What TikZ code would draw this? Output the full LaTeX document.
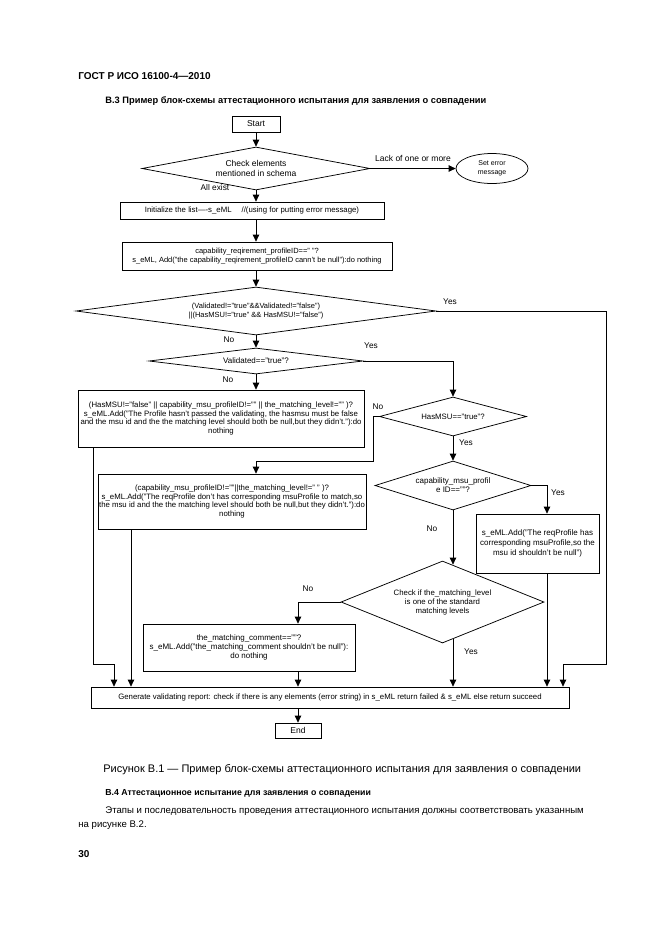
\documentclass[tikz,border=0pt]{standalone}
\usepackage{fontspec}
\setmainfont{Liberation Sans}
\usetikzlibrary{shapes.geometric}
\usetikzlibrary{arrows.meta}
\usetikzlibrary{positioning}

\begin{document}
\begin{tikzpicture}[
            x = 1pt, y = -1pt, % page grid, y runs down
            > = {Triangle[length=7pt, width=6.5pt]}, % arrow head style
            line width = 0.75pt, % line style
            font = \fontsize{7.8}{8.8}\selectfont
        ]

        \tikzstyle{block}=[draw, rectangle, align=center, inner sep=0.5pt]
        \tikzstyle{decision}=[draw, diamond, align=center, inner sep=0pt]
        \tikzstyle{term}=[draw, ellipse, align=center, inner sep=0pt]
        \tikzstyle{tag}=[inner sep=0pt, font=\fontsize{8.3}{9}\selectfont]
        \tikzstyle{page}=[inner sep=0pt, anchor=base west]

        \useasboundingbox (0,0) rectangle (662,935);

        % page text
        \node[page, font=\fontsize{10}{12}\selectfont\bfseries] (gost) at (78,79) {ГОСТ Р ИСО 16100-4—2010};
        \node[page, font=\fontsize{9.3}{11}\selectfont\bfseries] (title) at (105,103) {В.3 Пример блок-схемы аттестационного испытания для заявления о совпадении};

        % start and schema check
        \node[block, minimum width=48, minimum height=16, font=\fontsize{8.5}{9}\selectfont] (start) at (256,124) {Start};
        \node[decision, minimum width=228, minimum height=43, aspect=5.3, font=\fontsize{8.5}{9.5}\selectfont] (check) at (256,168.5) {Check elements\\mentioned in schema};
        \node[term, minimum width=72, minimum height=30, font=\fontsize{7}{9}\selectfont] (err) at (492,168.5) {Set error\\message};
        \node[tag] (allex) at (215,188) {All exist};

        \path[->] (start) edge (check);
        \draw[->] (check) -- node[tag, above=7pt, font=\fontsize{8.5}{9}\selectfont] (lack) {Lack of one or more} (err);

        % error list
        \node[block, minimum width=264, minimum height=17] (init) at (252,210.5) {Initialize the list----s\_eML\hspace{10pt}//(using for putting error message)};
        \node[block, minimum width=270, minimum height=28, font=\fontsize{7.5}{9}\selectfont] (cap) at (257,256) {capability\_reqirement\_profileID==" "?\\s\_eML, Add("the capability\_reqirement\_profileID cann't be null"):do nothing};

        \draw[->] (check) -- (check |- init.north);
        \draw[->] (check |- init.south) -- (check |- cap.north);

        % validated / hasmsu flags
        \node[decision, minimum width=360, minimum height=48, aspect=7.5, font=\fontsize{7.5}{9.5}\selectfont] (flags) at (256,311) {(Validated!="true"\&\&Validated!="false")\\||(HasMSU!="true" \&\& HasMSU!="false")};
        \node[decision, minimum width=214, minimum height=26, aspect=8.2, font=\fontsize{8}{9}\selectfont] (valtrue) at (256,361) {Validated=="true"?};
        \node[tag] (yes1) at (450,302) {Yes};
        \node[tag] (no1) at (229,340) {No};
        \node[tag] (yes2) at (371,346) {Yes};
        \node[tag] (no2) at (228,380) {No};

        \draw[->] (check |- cap.south) -- (flags);
        \draw[->] (flags) -- (valtrue);

        % not validated
        \node[block, minimum width=286, minimum height=57] (notval) at (221,418.5) {(HasMSU!="false" || capability\_msu\_profileID!="" || the\_matching\_level!="" )?\\s\_eML.Add("The Profile hasn't passed the validating, the hasmsu must be false\\and the msu id and the the matching level should both be null,but they didn't."):do\\nothing};
        \draw[->] (valtrue) -- (valtrue |- notval.north);

        % validated
        \node[decision, minimum width=147, minimum height=39, aspect=3.8] (hasmsu) at (453,416.5) {HasMSU=="true"?};
        \node[tag] (no3) at (378,407) {No};
        \node[tag] (yes3) at (466,443) {Yes};
        \draw[->] (valtrue.east) -| (hasmsu.north);

        \node[block, minimum width=268, minimum height=55] (nomsu) at (232,501.5) {(capability\_msu\_profileID!=""||the\_matching\_level!=" " )?\\s\_eML.Add("The reqProfile don't has corresponding msuProfile to match,so\\the msu id and the the matching level should both be null,but they didn't."):do\\nothing};
        \coordinate (njog) at (373,461);
        \draw[->] (hasmsu.west) -| (njog) -| (valtrue.south |- nomsu.north);

        % msu id
        \node[decision, minimum width=156, minimum height=49, aspect=3.2, font=\fontsize{8}{9}\selectfont] (msuid) at (453,485.5) {capability\_msu\_profil\\e ID==""?};
        \node[block, minimum width=123, minimum height=59, font=\fontsize{8}{10}\selectfont] (hasid) at (537.5,543.5) {s\_eML.Add("The reqProfile has\\corresponding msuProfile,so the\\msu id shouldn't be null")};
        \node[tag] (yes4) at (558,493) {Yes};
        \node[tag] (no4) at (432,529) {No};
        \draw[->] (hasmsu) -- (msuid);
        \draw[->] (msuid.east) -| ([xshift=9.5pt]hasid.north);

        % matching level
        \node[decision, minimum width=203, minimum height=82, aspect=2.5, font=\fontsize{7.8}{9}\selectfont] (level) at (442.5,602) {Check if the\_matching\_level\\is one of the standard\\matching levels};
        \node[block, minimum width=212, minimum height=47, font=\fontsize{8}{9}\selectfont] (comment) at (249,647.5) {the\_matching\_comment==""?\\s\_eML.Add("the\_matching\_comment shouldn't be null"):\\do nothing};
        \node[tag] (no5) at (308,589) {No};
        \node[tag] (yes5) at (471,652) {Yes};
        \draw[->] (msuid.south) -- ([yshift=-4pt]msuid.south |- level.north);

        % report
        \node[block, minimum width=478, minimum height=21] (report) at (330,697.5) {Generate validating report: check if there is any elements (error string) in s\_eML return failed \& s\_eML else return succeed};
        \node[block, minimum width=46, minimum height=15, font=\fontsize{8.5}{9}\selectfont] (end) at (298,730.5) {End};

        \draw[->] (level.west) -| (end |- comment.north);
        \draw[->] (end |- comment.south) -- (end |- report.north);
        \draw[->] ([yshift=4pt]msuid.south |- level.south) -- (msuid.south |- report.north);
        \draw[->] ([xshift=9.5pt]hasid.south) -- ([xshift=9.5pt]hasid.south |- report.north);
        \draw[->] ([xshift=-101pt]nomsu.south) -- ([xshift=-101pt]nomsu.south |- report.north);

        \coordinate (ljog) at (93,664);
        \coordinate (lend) at (114,664);
        \draw[->] (ljog |- notval.south) -- (ljog) -- (lend) -- (lend |- report.north);

        \coordinate (rjog) at (606,664);
        \coordinate (rend) at (563,664);
        \draw[->] (flags.east) -| (rjog) -- (rend) -- (rend |- report.north);

        \draw[->] (end |- report.south) -- (end);

        % caption and page text
        \node[page, font=\fontsize{11}{13}\selectfont] (caption) at (103,772) {Рисунок В.1 — Пример блок-схемы аттестационного испытания для заявления о совпадении};
        \node[page, font=\fontsize{8.75}{10}\selectfont\bfseries] (sect) at (105,795) {В.4 Аттестационное испытание для заявления о совпадении};
        \node[page, font=\fontsize{9.6}{11}\selectfont] (body1) at (105,813) {Этапы и последовательность проведения аттестационного испытания должны соответствовать указанным};
        \node[page, font=\fontsize{9.6}{11}\selectfont] (body2) at (78,827) {на рисунке В.2.};
        \node[page, font=\fontsize{10}{12}\selectfont\bfseries] (pageno) at (78,857) {30};

\end{tikzpicture}
\end{document}
